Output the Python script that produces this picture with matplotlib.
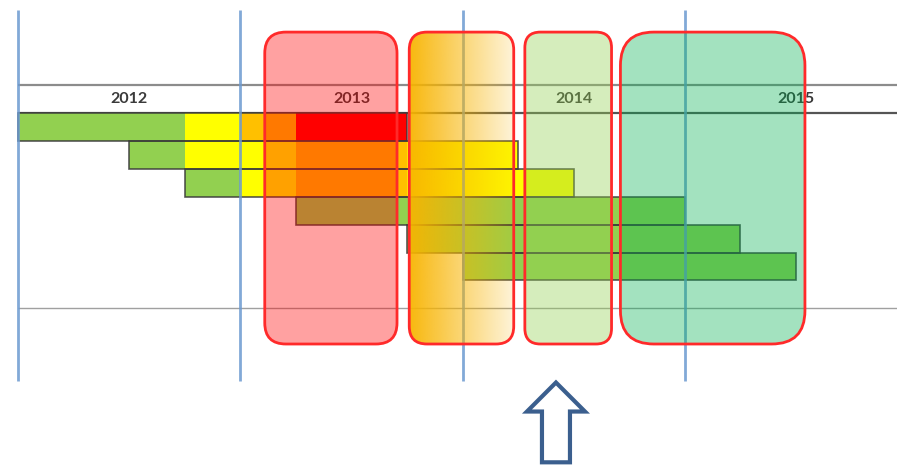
import matplotlib.pyplot as plt
import numpy as np
from matplotlib.patches import FancyBboxPatch, Polygon
from matplotlib.colors import to_rgb

# Годы на шкале времени
years = [2012, 2013, 2014, 2015]
year_labels = ['2012', '2013', '2014', '2015']

# Сегменты строк: строка, начало, конец, фаза
seg_row = [0, 0, 0, 0, 1, 1, 1, 1, 2, 2, 2, 2, 3, 4, 5]
seg_start = [2012.0, 2012.75, 2013.0, 2013.25,
             2012.5, 2012.75, 2013.25, 2013.75,
             2012.75, 2013.0, 2013.25, 2013.75,
             2013.25, 2013.75, 2014.0]
seg_end = [2012.75, 2013.0, 2013.25, 2013.75,
           2012.75, 2013.25, 2013.75, 2014.25,
           2013.0, 2013.25, 2013.75, 2014.5,
           2015.0, 2015.25, 2015.5]
seg_phase = ['green', 'yellow', 'orange', 'red',
             'green', 'yellow', 'orange', 'yellow',
             'green', 'yellow', 'orange', 'yellow',
             'green', 'green', 'green']
phase_colors = {'green': '#92D050', 'yellow': '#FFFF00', 'orange': '#FFC000', 'red': '#FF0000'}

# Полупрозрачные блоки-периоды
box_start = [2013.11, 2013.76, 2014.28, 2014.71]
box_end = [2013.705, 2014.23, 2014.67, 2015.54]
box_color = ['#FF0000', 'gradient', '#92D050', '#00B050']
box_alpha = [0.37, 1.0, 0.38, 0.36]
box_radius = [0.095, 0.08, 0.07, 0.15]

arrow_year = 2014.42

PX_X = 222.3   # пикселей на год
PX_Y = 27.9    # пикселей на строку

fig = plt.figure(figsize=(8.97, 4.66), dpi=100)
ax = fig.add_axes([0, 0, 1, 1])
ax.set_xlim(2012 - 18 / PX_X, 2012 + 879 / PX_X)
ax.set_ylim(353 / PX_Y, -113 / PX_Y)
ax.axis('off')

x_left = years[0]
x_right = ax.get_xlim()[1]

# Горизонтальные линии шапки и низа
ax.hlines([-1, 0], x_left, x_right, colors=['#8c8c8c', '#555555'], lw=1.6, zorder=1)
ax.hlines([7], x_left, x_right, colors='#a0a0a0', lw=1.0, zorder=1)

# Подписи годов
for y, lab in zip(years, year_labels):
    ax.text(y + 0.5, -0.5, lab, ha='center', va='center', fontsize=11.5,
            fontweight='bold', color='#3a3a3a', family=['Lato', 'DejaVu Sans'], zorder=1.5)

# Сегменты полос
for r, s, e, p in zip(seg_row, seg_start, seg_end, seg_phase):
    ax.barh(r, e - s, left=s, height=1, align='edge', color=phase_colors[p],
            edgecolor='none', zorder=2)

# Контуры полос
n_rows = max(seg_row) + 1
for r in range(n_rows):
    s = min(st for rr, st in zip(seg_row, seg_start) if rr == r)
    e = max(en for rr, en in zip(seg_row, seg_end) if rr == r)
    ax.barh(r, e - s, left=s, height=1, align='edge', color='none',
            edgecolor='#3a3a3a', lw=1.2, alpha=0.85, zorder=3)

# Вертикальные синие линии годов
ax.vlines(years, -3.68, 9.6, colors='#6C9AD0', lw=2.0, alpha=0.85, zorder=4)

# Блоки
box_top, box_bottom = -2.9, 8.28
aspect = PX_X / PX_Y
for s, e, c, a, rad in zip(box_start, box_end, box_color, box_alpha, box_radius):
    patch = FancyBboxPatch((s, box_top), e - s, box_bottom - box_top,
                           boxstyle=f'round,pad=0,rounding_size={rad}',
                           mutation_aspect=aspect, facecolor='none',
                           edgecolor='#FF2a2a', lw=2.0, zorder=6)
    if c == 'gradient':
        ax.add_patch(patch)
        n = 256
        rgba = np.zeros((1, n, 4))
        rgba[..., :3] = to_rgb('#F8B400')
        rgba[0, :, 3] = np.linspace(0.95, 0.15, n)
        im = ax.imshow(rgba, extent=(s, e, box_bottom, box_top), aspect='auto',
                       interpolation='bilinear', zorder=5)
        im.set_clip_path(patch)
    else:
        patch.set_facecolor((*to_rgb(c), a))
        ax.add_patch(patch)

ax.set_xlim(2012 - 18 / PX_X, 2012 + 879 / PX_X)
ax.set_ylim(353 / PX_Y, -113 / PX_Y)

# Стрелка вверх
hw, sw = 29 / PX_X, 14 / PX_X
tip, base, bottom = 9.66, 10.7, 12.52
arrow_pts = [(arrow_year, tip), (arrow_year + hw, base), (arrow_year + sw, base),
             (arrow_year + sw, bottom), (arrow_year - sw, bottom), (arrow_year - sw, base),
             (arrow_year - hw, base)]
ax.add_patch(Polygon(arrow_pts, closed=True, facecolor='white', edgecolor='#3B5F8E',
                     lw=3.0, joinstyle='miter', zorder=7))

fig.savefig('out.png', dpi=100)
